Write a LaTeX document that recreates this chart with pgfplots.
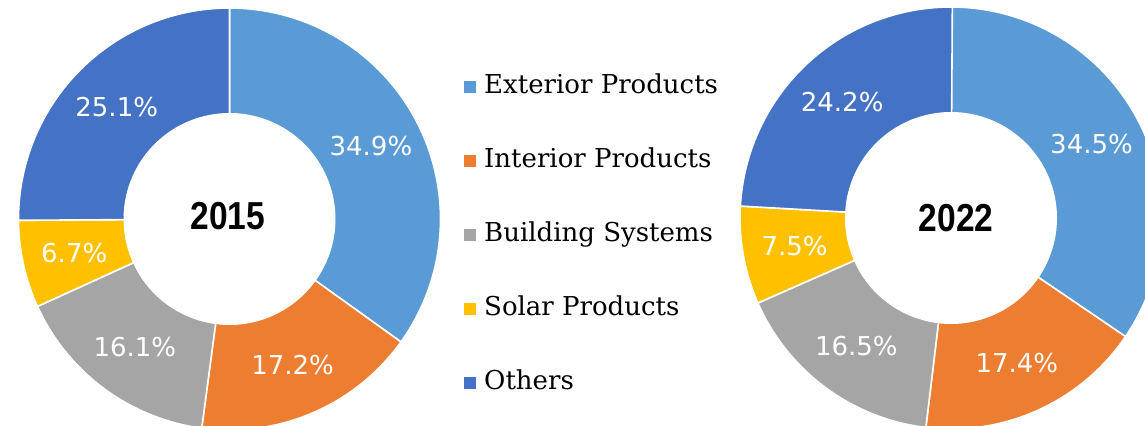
\documentclass[border=0pt]{standalone}
\usepackage{fontspec}
\setmainfont{Liberation Sans}
\newfontfamily\legfam{DejaVu Serif}
\newfontfamily\pctfam{DejaVu Sans}
\usepackage{pgfplots}
\usepackage{pgfplotstable}
\pgfplotsset{compat=1.18}
\definecolor{seg0}{HTML}{5B9BD5}
\definecolor{seg1}{HTML}{ED7D31}
\definecolor{seg2}{HTML}{A5A5A5}
\definecolor{seg3}{HTML}{FFC000}
\definecolor{seg4}{HTML}{4472C4}
\newcommand\pctfont{\pctfam\fontsize{13}{15}\selectfont}
\newcommand\legfont{\legfam\fontsize{13}{15}\selectfont}
\newcommand\yearfont{\fontsize{19.5}{20}\selectfont\bfseries}

\pgfplotstableread{
seg value
Exterior 34.9
Interior 17.2
Building 16.1
Solar 6.7
Others 25.1
}\dataA
\pgfplotstableread{
seg value
Exterior 34.5
Interior 17.4
Building 16.5
Solar 7.5
Others 24.2
}\dataB

\newcommand\donut[3]{%
  \def\cum{0}%
  \pgfplotsforeachungrouped \i in {0,...,4}{%
    \pgfplotstablegetelem{\i}{value}\of#1%
    \let\v\pgfplotsretval
    \pgfmathsetmacro\a{90-3.6*\cum}%
    \pgfmathsetmacro\b{90-3.6*(\cum+\v)}%
    \pgfmathsetmacro\m{(\a+\b)/2}%
    \pgfmathsetmacro\lx{#2+159*cos(\m)}%
    \pgfmathsetmacro\ly{#3+159*sin(\m)}%
    \edef\tmp{%
      \noexpand\addplot[fill=seg\i, draw=white, line width=0.8pt, domain=\b:\a, samples=90, forget plot]
        ({#2+211*cos(x)},{#3+211*sin(x)}) -- (axis cs:#2,#3) -- cycle;
      \noexpand\node[text=white, font=\noexpand\pctfont] at (axis cs:\lx,\ly) {\v\noexpand\%};
    }\tmp
    \pgfmathsetmacro\cum{\cum+\v}%
  }%
  \addplot[fill=white, draw=none, domain=0:360, samples=160, forget plot]
    ({#2+106*cos(x)},{#3+106*sin(x)}) -- cycle;
}

\begin{document}
\begin{tikzpicture}
\begin{axis}[
  width=572.5pt, height=213pt, scale only axis,
  xmin=0, xmax=1145, ymin=0, ymax=426,
  hide axis,
  legend image code/.code={\fill[#1] (0pt,-2.75pt) rectangle (5.5pt,2.75pt);},
  legend cell align=left,
  legend style={draw=none, fill=none, at={(axis cs:458,358)}, anchor=north west,
    font=\legfont, row sep=22.5pt, column sep=2.5pt,
    nodes={inner sep=1.5pt, text height=9pt, text depth=2.5pt}},
]
\donut{\dataA}{229.5}{207}
\donut{\dataB}{951}{208}
\node[font=\yearfont] at (axis cs:228,210) {\scalebox{0.86}[1]{2015}};
\node[font=\yearfont] at (axis cs:956,208) {\scalebox{0.86}[1]{2022}};
\addlegendimage{seg0}\addlegendentry{Exterior Products}
\addlegendimage{seg1}\addlegendentry{Interior Products}
\addlegendimage{seg2}\addlegendentry{Building Systems}
\addlegendimage{seg3}\addlegendentry{Solar Products}
\addlegendimage{seg4}\addlegendentry{Others}
\end{axis}
\path[use as bounding box] (current axis.south west) rectangle (current axis.north east);
\end{tikzpicture}
\end{document}
